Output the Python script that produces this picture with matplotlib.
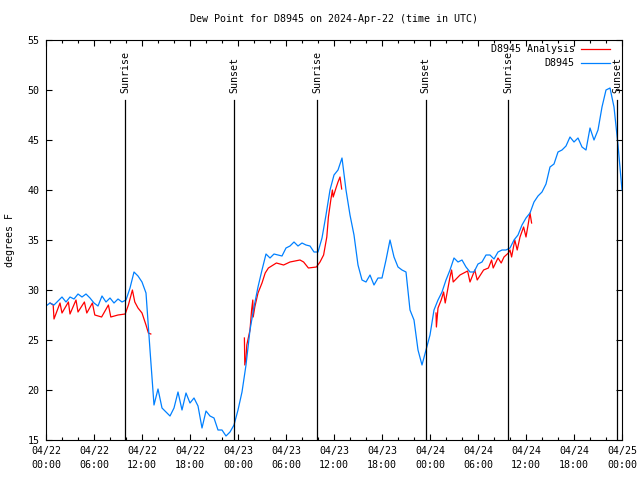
import numpy as np
import pandas as pd
import matplotlib
matplotlib.use("Agg")
import matplotlib.pyplot as plt
import matplotlib.dates as mdates

# ============================================================
# DATA (hours after 2024-04-22 00:00 UTC, dew point in F)
# ============================================================
START = pd.Timestamp("2024-04-22 00:00")

obs_hours = np.arange(0, 72.5, 0.5)
obs_dewpt = [
    28.4, 28.7, 28.5, 28.9, 29.3, 28.8, 29.3, 29.1, 29.6, 29.3, 29.6, 29.2,
    28.7, 28.4, 29.4, 28.8, 29.2, 28.7, 29.1, 28.8, 29.0, 30.2, 31.8, 31.4,
    30.8, 29.7, 24.0, 18.5, 20.1, 18.2, 17.8, 17.4, 18.2, 19.8, 18.0, 19.7,
    18.7, 19.2, 18.4, 16.2, 17.9, 17.4, 17.2, 16.0, 16.0, 15.4, 15.8, 16.5,
    18.0, 19.8, 22.5, 26.0, 28.3, 30.3, 32.0, 33.6, 33.2, 33.6, 33.5, 33.4,
    34.2, 34.4, 34.8, 34.4, 34.7, 34.5, 34.4, 33.8, 33.8, 35.2, 37.5, 40.0,
    41.5, 42.0, 43.2, 40.0, 37.5, 35.5, 32.5, 31.0, 30.8, 31.5, 30.5, 31.2,
    31.2, 33.0, 35.0, 33.3, 32.3, 32.0, 31.8, 28.0, 27.0, 24.0, 22.5, 24.0,
    25.5, 28.0, 29.0, 29.8, 31.0, 32.0, 33.2, 32.8, 33.0, 32.3, 31.8, 31.8,
    32.6, 32.8, 33.5, 33.5, 33.1, 33.8, 34.0, 34.0, 34.2, 35.0, 35.5, 36.5,
    37.2, 37.7, 38.8, 39.4, 39.8, 40.6, 42.3, 42.6, 43.8, 44.0, 44.4, 45.3,
    44.8, 45.2, 44.3, 44.0, 46.2, 45.0, 46.0, 48.3, 50.0, 50.2, 48.3, 44.5,
    40.0,
]

# analysis series, NaN marks the gaps
ana_hours = [
    0.5, 0.9, 1.0, 1.75, 2.0, 2.8, 3.0, 3.75, 4.0, 4.8, 5.1, 5.8, 6.1, 6.95,
    7.8, 8.1, 9.0, 9.9, 10.3, 10.8, 11.1, 11.5, 12.0, 12.5, 12.8, 13.1, 13.2,
    24.8, 24.85, 25.0, 25.1, 25.5, 25.7, 25.85, 25.9, 26.1, 26.5, 27.0, 27.4,
    27.8, 28.8, 29.7, 30.5, 31.75, 32.2, 32.8, 33.8, 34.25, 34.7, 35.1, 35.3,
    35.6, 35.8, 35.9, 36.25, 36.5, 36.75, 36.96, 37.0,
    48.75, 48.8, 49.0, 49.4, 49.7, 49.9, 50.5, 50.7, 50.9, 51.75, 52.7, 53.0,
    53.6, 53.9, 54.7, 55.3, 55.7, 55.9, 56.5, 56.9, 57.25, 57.8, 58.0, 58.2,
    58.6, 58.9, 59.25, 59.7, 60.0, 60.3, 60.5, 60.7,
]
ana_dewpt = [
    28.7, 28.5, 27.1, 28.7, 27.7, 28.8, 27.6, 29.0, 27.8, 28.8, 27.7, 28.7, 27.5, 27.3,
    28.5, 27.3, 27.5, 27.6, 28.5, 30.0, 28.8, 28.2, 27.7, 26.5, 25.7, 25.6, np.nan,
    25.2, 22.5, 23.2, 24.5, 26.0, 28.0, 29.0, 27.3, 28.3, 29.7, 30.7, 31.7,
    32.2, 32.7, 32.5, 32.8, 33.0, 32.8, 32.2, 32.3, 32.8, 33.5, 35.3, 37.3,
    39.0, 40.0, 39.3, 40.2, 40.8, 41.3, 40.1, np.nan,
    27.7, 26.3, 28.2, 29.0, 29.8, 28.7, 31.3, 32.0, 30.8, 31.5, 31.9, 30.8,
    32.0, 31.0, 32.0, 32.2, 33.0, 32.2, 33.2, 32.7, 33.3, 33.7, 34.0, 33.3,
    35.0, 34.0, 35.3, 36.3, 35.3, 36.7, 37.7, 36.7,
]

sun_hours = [9.92, 23.5, 33.9, 47.46, 57.8, 71.4]
sun_labels = ["Sunrise", "Sunset", "Sunrise", "Sunset", "Sunrise", "Sunset"]

# ============================================================
# PLOT
# ============================================================
def to_time(hours):
    return START + pd.to_timedelta(np.asarray(hours, dtype=float), unit="h")


def main():
    plt.rcParams["font.family"] = "DejaVu Sans Mono"
    plt.rcParams["font.size"] = 7.2

    fig = plt.figure(figsize=(6.4, 4.8), dpi=100)
    ax = fig.add_axes([46 / 640, 40 / 480, 576 / 640, 400 / 480])

    red = "#ff0000"
    blue = "#0080ff"

    ax.plot(to_time(ana_hours), ana_dewpt, color=red, lw=0.9)
    ax.plot(to_time(obs_hours), obs_dewpt, color=blue, lw=0.9)

    for h, lab in zip(sun_hours, sun_labels):
        t = to_time([h])[0]
        ax.plot([t, t], [15, 49], color="black", lw=0.9)
        ax.text(t, 49.7, lab, rotation=90, ha="center", va="bottom")

    ax.set_xlim(START, START + pd.Timedelta(hours=72))
    ax.set_ylim(15, 55)
    ax.set_yticks(np.arange(15, 56, 5))

    ax.xaxis.set_major_locator(mdates.HourLocator(byhour=[0, 6, 12, 18]))
    ax.xaxis.set_minor_locator(mdates.HourLocator(byhour=range(0, 24, 2)))
    ax.xaxis.set_major_formatter(mdates.DateFormatter("%m/%d\n%H:%M"))
    for t in ax.get_xticklabels():
        t.set_linespacing(1.45)

    ax.tick_params(which="both", direction="in", top=True, right=True, width=0.8)
    ax.tick_params(which="major", length=4.5, pad=4.5)
    ax.tick_params(which="minor", length=2.5)
    for s in ax.spines.values():
        s.set_linewidth(0.8)

    # legend drawn by hand: right aligned text, sample line after it
    for i, (lab, col) in enumerate([("D8945 Analysis", red), ("D8945", blue)]):
        y = 0.9775 - i * 0.035
        ax.text(0.918, y, lab, transform=ax.transAxes, ha="right", va="center")
        ax.plot([0.929, 0.979], [y, y], transform=ax.transAxes, color=col, lw=0.9)

    fig.text(334 / 640, 1 - 19 / 480, "Dew Point for D8945 on 2024-Apr-22 (time in UTC)",
             ha="center", va="center")
    fig.text(10 / 640, 0.5, "degrees F", rotation=90, ha="center", va="center")

    fig.savefig("out.png", dpi=100)
    plt.close(fig)


if __name__ == "__main__":
    main()
